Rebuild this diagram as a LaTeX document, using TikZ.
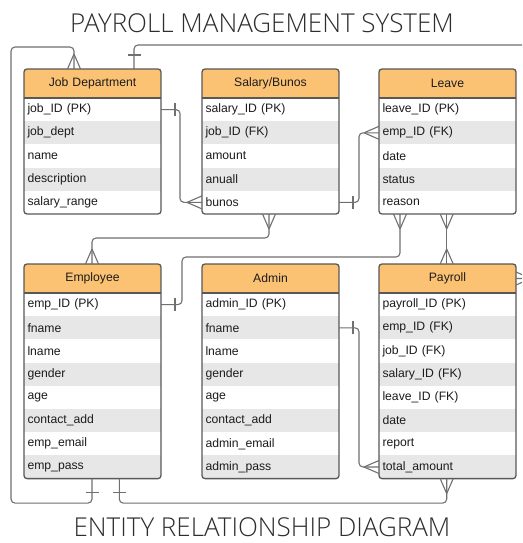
\documentclass[tikz,border=0pt]{standalone}
\usepackage{fontspec}
\setmainfont{Liberation Sans}
\newfontfamily\titlefont{Open Sans Light}
\usetikzlibrary{calc}

\definecolor{hdr}{RGB}{252,194,115}
\definecolor{stripe}{RGB}{231,231,231}
\definecolor{framec}{RGB}{88,88,88}
\definecolor{wire}{RGB}{112,112,112}
\definecolor{ink}{RGB}{28,28,28}
\definecolor{titleink}{RGB}{45,45,45}

\tikzset{
  x=1pt, y=-1pt,
  conn/.style={draw=wire, line width=1.1pt, rounded corners=4pt},
  tickline/.style={draw=wire, line width=1.1pt},
  crow/.pic={\draw[tickline] (-15,0) -- (0,-6.5) (-15,0) -- (0,6.5);},
  onebar/.pic={\draw[tickline] (-14,-6.5) -- (-14,6.5);},
  cell/.style={anchor=north west, minimum width=137pt, minimum height=23.2pt,
    inner xsep=3.5pt, inner ysep=0pt, outer sep=0pt, text width=130pt, align=left,
    font=\fontsize{12.2}{14}\selectfont, text=ink},
  headcell/.style={cell, minimum height=29pt, align=center, fill=hdr},
  tableframe/.style={anchor=north west, draw=framec, line width=1.3pt,
    rounded corners=3pt, minimum width=137pt, inner sep=0pt, outer sep=0pt},
  titletext/.style={anchor=base, inner sep=0pt, font=\titlefont\fontsize{26}{28}\selectfont, text=titleink},
}

% #1 name, #2 x, #3 y, #4 number of rows, #5 title, #6 rows
\newcommand\ertable[6]{%
  \pgfmathsetmacro\tabh{29+#4*23.2}
  \begin{scope}
    \clip[rounded corners=3pt] (#2,#3) rectangle ++(137,\tabh);
    \node[headcell] (#1-h) at (#2,#3) {#5};
    \foreach \r [count=\i] in {#6} {
      \ifodd\i\def\rowfill{white}\else\def\rowfill{stripe}\fi
      \node[cell, fill=\rowfill] (#1-\i) at (#2,{#3+29+(\i-1)*23.2}) {\r};
    }
  \end{scope}
  \draw[draw=framec, line width=1.3pt] (#1-h.south west) -- (#1-h.south east);
  \node[tableframe, minimum height=\tabh pt] (#1) at (#2,#3) {};
}

\begin{document}
\begin{tikzpicture}
\clip (0,0) rectangle (522,543);
\fill[white] (0,0) rectangle (522,543);

\node[titletext] (title) at (262,33) {PAYROLL MANAGEMENT SYSTEM};
\node[titletext] (subtitle) at (262,536.5) {ENTITY RELATIONSHIP DIAGRAM};

\ertable{jd}{24}{69}{5}{Job Department}%
  {job\_ID (PK), job\_dept, name, description, salary\_range}
\ertable{sal}{202}{69}{5}{Salary/Bunos}%
  {salary\_ID (PK), job\_ID (FK), amount, anuall, bunos}
\ertable{lv}{379}{69}{5}{Leave}%
  {leave\_ID (PK), emp\_ID (FK), date, status, reason}
\ertable{emp}{24}{264}{8}{Employee}%
  {emp\_ID (PK), fname, lname, gender, age, contact\_add, emp\_email, emp\_pass}
\ertable{adm}{202}{264}{8}{Admin}%
  {admin\_ID (PK), fname, lname, gender, age, contact\_add, admin\_email, admin\_pass}
\ertable{pay}{379}{264}{8}{Payroll}%
  {payroll\_ID (PK), emp\_ID (FK), job\_ID (FK), salary\_ID (FK), leave\_ID (FK), date, report, total\_amount}

% attachment points on table edges
\coordinate (salB)  at ($(sal.south west)+(67,0)$);
\coordinate (empT)  at ($(emp.north west)+(68,0)$);
\coordinate (lvB1)  at ($(lv.south west)+(21,0)$);
\coordinate (lvB2)  at ($(lv.south west)+(67.7,0)$);
\coordinate (payT)  at ($(pay.north west)+(67.7,0)$);
\coordinate (empB1) at ($(emp.south west)+(68,0)$);
\coordinate (empB2) at ($(emp.south west)+(95.3,0)$);
\coordinate (payB)  at ($(pay.south west)+(67.7,0)$);
\coordinate (jdT1)  at ($(jd.north west)+(50,0)$);
\coordinate (jdT2)  at ($(jd.north west)+(110,0)$);

% Job Department -- Salary/Bunos
\draw[conn] (jd-1.east) -- ++(19,0) |- (sal-5.west);
\pic[rotate=180] at (jd-1.east) {onebar};
\pic at (sal-5.west) {crow};

% Salary/Bunos -- Employee
\draw[conn] (salB) -- ++(0,24) -| (empT);
\pic[rotate=90] at (salB) {crow};
\pic[rotate=-90] at (empT) {crow};

% Leave -- Employee
\draw[conn] (lvB1) -- ++(0,43) -| ($(emp-1.east)+(21,0)$) -- (emp-1.east);
\pic[rotate=90] at (lvB1) {crow};
\pic[rotate=180] at (emp-1.east) {onebar};

% Leave -- Payroll
\draw[conn] (lvB2) -- (payT);
\pic[rotate=90] at (lvB2) {crow};
\pic[rotate=-90] at (payT) {crow};

% Salary/Bunos -- Leave
\draw[conn] (lv-2.west) -- ++(-20,0) |- (sal-5.east);
\pic at (lv-2.west) {crow};
\pic[rotate=180] at (sal-5.east) {onebar};

% Admin -- Payroll
\draw[conn] (adm-2.east) -- ++(20,0) |- (pay-8.west);
\pic[rotate=180] at (adm-2.east) {onebar};
\pic at (pay-8.west) {crow};

% Employee -- Job Department
\draw[conn] (empB1) -- ++(0,24.5) -| ($(jd.north west)+(-13,-22)$) -| (jdT1);
\pic[rotate=90] at (empB1) {onebar};
\pic[rotate=-90] at (jdT1) {crow};

% Employee -- Payroll
\draw[conn] (empB2) -- ++(0,24.5) -| (payB);
\pic[rotate=90] at (empB2) {onebar};
\pic[rotate=90] at (payB) {crow};

% Job Department -- Payroll
\draw[conn] (jdT2) -- ++(0,-24) -| ($(pay-h.east)+(20,0)$) -- (pay-h.east);
\pic[rotate=-90] at (jdT2) {onebar};
\pic[rotate=180] at (pay-h.east) {crow};
\end{tikzpicture}
\end{document}
